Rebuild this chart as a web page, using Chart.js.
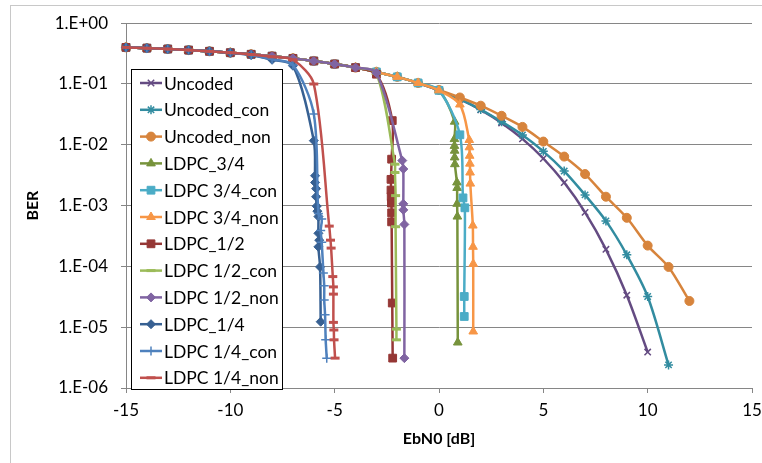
<!DOCTYPE html>
<html>
<head>
<meta charset="utf-8">
<title>BER vs EbN0</title>
<script src="https://cdn.jsdelivr.net/npm/chart.js@4.4.1/dist/chart.umd.min.js"></script>
<style>
  html, body { margin: 0; padding: 0; background: #fff; }
</style>
</head>
<body>
<canvas id="berChart" width="762" height="463"></canvas>
<script>
// shared high-BER part (all curves sit on the uncoded curve here)
var ebn0Base = [-15, -14, -13, -12, -11, -10, -9, -8, -7, -6, -5, -4, -3, -2, -1, 0];
var berBase = [0.400, 0.389, 0.376, 0.361, 0.345, 0.327, 0.308, 0.287, 0.264, 0.239, 0.213, 0.186, 0.158, 0.131, 0.104, 0.0786];

var snrUncoded = ebn0Base.concat([1, 2, 3, 4, 5, 6, 7, 8, 9, 10]);
var berUncoded = berBase.concat([0.0563, 0.0375, 0.0229, 0.0125, 5.95e-3, 2.39e-3, 7.73e-4, 1.91e-4, 3.36e-5, 3.9e-6]);

var snrUncodedCon = ebn0Base.concat([1, 2, 3, 4, 5, 6, 7, 8, 9, 10, 11]);
var berUncodedCon = berBase.concat([0.0565, 0.038, 0.024, 0.0145, 7.8e-3, 3.7e-3, 1.5e-3, 5.6e-4, 1.55e-4, 3.2e-5, 2.4e-6]);

var snrUncodedNon = ebn0Base.slice(0, 15).concat([0, 1, 2, 3, 4, 5, 6, 7, 8, 9, 10, 11, 12]);
var berUncodedNon = berBase.slice(0, 15).concat([0.080, 0.060, 0.044, 0.030, 0.0197, 0.0113, 6.4e-3, 3.3e-3, 1.4e-3, 6.3e-4, 2.2e-4, 9.8e-5, 2.7e-5]);

var snrLdpc34 = ebn0Base.concat([0.75, 0.74, 0.74, 0.75, 0.75, 0.76, 0.86, 0.87, 0.87, 0.88, 0.90]);
var berLdpc34 = berBase.concat([0.024, 0.0124, 0.0096, 0.0080, 0.0062, 0.0048, 0.0024, 0.00195, 0.00107, 6.6e-4, 5.6e-6]);

var snrLdpc34Con = ebn0Base.concat([1.0, 1.15, 1.24, 1.21, 1.21]);
var berLdpc34Con = berBase.concat([0.0146, 0.00134, 9.2e-4, 3.2e-5, 1.5e-5]);

var snrLdpc34Non = ebn0Base.concat([1.0, 1.45, 1.46, 1.47, 1.48, 1.49, 1.50, 1.62, 1.63, 1.64, 1.64]);
var berLdpc34Non = berBase.concat([0.046, 0.012, 0.0091, 0.0066, 0.0049, 0.0035, 0.0023, 4.7e-4, 2.1e-4, 1.1e-4, 8.5e-6]);

var snrLdpc12 = ebn0Base.slice(0, 12).concat([-3, -2.24, -2.27, -2.30, -2.30, -2.29, -2.28, -2.27, -2.27, -2.24, -2.22]);
var berLdpc12 = berBase.slice(0, 12).concat([0.145, 0.025, 0.0058, 0.0027, 0.0018, 0.0014, 0.0011, 7.6e-4, 5.4e-4, 2.5e-5, 3.1e-6]);

var snrLdpc12Con = ebn0Base.slice(0, 12).concat([-3, -2.11, -2.11, -2.08, -2.08, -2.04, -2.04]);
var berLdpc12Con = berBase.slice(0, 12).concat([0.15, 0.0048, 0.0035, 0.00146, 4.5e-4, 9.3e-6, 6.2e-6]);

var snrLdpc12Non = ebn0Base.slice(0, 12).concat([-3, -1.76, -1.71, -1.71, -1.71, -1.66, -1.66]);
var berLdpc12Non = berBase.slice(0, 12).concat([0.152, 0.0055, 0.0040, 0.00107, 8.5e-4, 4.9e-4, 3.1e-6]);

var snrLdpc14 = ebn0Base.slice(0, 6).concat([-9, -8, -7, -6, -5.94, -5.94, -5.89, -5.89, -5.86, -5.83, -5.78, -5.78, -5.74, -5.78, -5.70, -5.67]);
var berLdpc14 = berBase.slice(0, 6).concat([0.30, 0.25, 0.20, 0.0117, 0.0031, 0.0024, 0.0019, 0.0014, 9.8e-4, 8.1e-4, 6.6e-4, 3.5e-4, 2.7e-4, 2.1e-4, 9.8e-5, 1.23e-5]);

var snrLdpc14Con = ebn0Base.slice(0, 6).concat([-9, -8, -7, -6, -5.78, -5.62, -5.67, -5.62, -5.54, -5.50, -5.50, -5.46, -5.43, -5.38]);
var berLdpc14Con = berBase.slice(0, 6).concat([0.30, 0.255, 0.205, 0.032, 7.4e-4, 6.0e-4, 3.9e-4, 2.5e-4, 7.8e-5, 4.8e-5, 2.8e-5, 1.6e-5, 6.2e-6, 3.1e-6]);

var snrLdpc14Non = ebn0Base.slice(0, 6).concat([-9, -8, -7, -6, -5.26, -5.20, -5.17, -5.09, -5.06, -5.06, -5.06, -5.04, -5.03, -4.98]);
var berLdpc14Non = berBase.slice(0, 6).concat([0.305, 0.28, 0.25, 0.1, 4.6e-4, 2.7e-4, 2.0e-4, 6.8e-5, 4.6e-5, 3.5e-5, 1.2e-5, 9e-6, 6.2e-6, 3.1e-6]);

var berTicks = [1, 1e-1, 1e-2, 1e-3, 1e-4, 1e-5, 1e-6];
var berTickLabels = ['1.E+00', '1.E-01', '1.E-02', '1.E-03', '1.E-04', '1.E-05', '1.E-06'];

var fontFamily = 'Lato, "Liberation Sans", sans-serif';

function series(label, xs, ys, color, style, radius, markerWidth) {
    return {
        label: label,
        data: xs.map(function(x, i) { return {x: x, y: ys[i]}; }),
        borderColor: color,
        backgroundColor: color,
        pointBackgroundColor: color,
        pointBorderColor: color,
        pointStyle: style,
        pointRadius: radius,
        pointBorderWidth: markerWidth,
        borderWidth: 2.5,
        tension: 0.3,
        clip: false,
        fill: false
    };
}

var datasets = [
    series('Uncoded', snrUncoded, berUncoded, '#644B82', 'crossRot', 4.5, 1.5),
    series('Uncoded_con', snrUncodedCon, berUncodedCon, '#328CA0', 'star', 4.5, 1.5),
    series('Uncoded_non', snrUncodedNon, berUncodedNon, '#D7843C', 'circle', 4.5, 1),
    series('LDPC_3/4', snrLdpc34, berLdpc34, '#77933C', 'triangle', 5, 1),
    series('LDPC 3/4_con', snrLdpc34Con, berLdpc34Con, '#4BACC6', 'rect', 5.5, 1),
    series('LDPC 3/4_non', snrLdpc34Non, berLdpc34Non, '#F79646', 'triangle', 5, 1),
    series('LDPC_1/2', snrLdpc12, berLdpc12, '#953735', 'rect', 5.5, 1),
    series('LDPC 1/2_con', snrLdpc12Con, berLdpc12Con, '#9BBB59', 'line', 4.5, 3),
    series('LDPC 1/2_non', snrLdpc12Non, berLdpc12Non, '#8064A2', 'rectRot', 4.5, 1),
    series('LDPC_1/4', snrLdpc14, berLdpc14, '#376092', 'rectRot', 4.5, 1),
    series('LDPC 1/4_con', snrLdpc14Con, berLdpc14Con, '#4F81BD', 'cross', 4.5, 1.5),
    series('LDPC 1/4_non', snrLdpc14Non, berLdpc14Non, '#C0504D', 'line', 4.5, 3)
];
// later series are painted on top
datasets.forEach(function(ds, i) { ds.order = datasets.length - 1 - i; });

// white page with the light outer frame
var chartFrame = {
    id: 'chartFrame',
    beforeDraw: function(chart) {
        var ctx = chart.ctx;
        ctx.save();
        ctx.fillStyle = '#ffffff';
        ctx.fillRect(0, 0, chart.width, chart.height);
        ctx.strokeStyle = '#c8c8c8';
        ctx.lineWidth = 1;
        ctx.strokeRect(10.5, 5.5, 800, 500);
        ctx.restore();
    }
};

// boxed legend inside the plot, top left
var legendBox = {
    id: 'legendBox',
    afterDraw: function(chart) {
        var ctx = chart.ctx;
        var area = chart.chartArea;
        var left = Math.round(area.left) + 5.5;
        var top = Math.round(area.top) + 46.5;
        var width = 151;
        var height = 320;
        var rowH = 26.8;
        ctx.save();
        ctx.fillStyle = '#ffffff';
        ctx.fillRect(left, top, width, height);
        ctx.strokeStyle = '#000000';
        ctx.lineWidth = 1;
        ctx.strokeRect(left, top, width, height);
        ctx.font = '17.5px ' + fontFamily;
        ctx.textBaseline = 'middle';
        chart.data.datasets.forEach(function(ds, i) {
            var y = top + 13.5 + i * rowH;
            var x0 = left + 8.5;
            var x1 = left + 30.5;
            ctx.strokeStyle = ds.borderColor;
            ctx.lineWidth = ds.borderWidth;
            ctx.beginPath();
            ctx.moveTo(x0, y);
            ctx.lineTo(x1, y);
            ctx.stroke();
            ctx.fillStyle = ds.pointBackgroundColor;
            ctx.strokeStyle = ds.pointBorderColor;
            ctx.lineWidth = ds.pointBorderWidth;
            Chart.helpers.drawPoint(ctx, {
                pointStyle: ds.pointStyle,
                radius: ds.pointRadius,
                borderWidth: ds.pointBorderWidth,
                rotation: 0
            }, (x0 + x1) / 2, y);
            ctx.fillStyle = '#000000';
            ctx.fillText(ds.label, x1 + 2, y + 1);
        });
        ctx.restore();
    }
};

var ctx = document.getElementById('berChart').getContext('2d');
new Chart(ctx, {
    type: 'line',
    data: { datasets: datasets },
    options: {
        responsive: false,
        animation: false,
        devicePixelRatio: 1,
        layout: { padding: { top: 22, right: 0, left: 0, bottom: 0 } },
        plugins: {
            legend: { display: false },
            tooltip: { enabled: false }
        },
        scales: {
            x: {
                type: 'linear',
                min: -15,
                max: 15,
                ticks: {
                    stepSize: 5,
                    color: '#000',
                    padding: 7,
                    maxRotation: 0,
                    font: { family: fontFamily, size: 17 }
                },
                grid: { drawOnChartArea: false, drawTicks: true, tickLength: 5, color: '#868686' },
                border: { color: '#868686' },
                title: {
                    display: true,
                    text: 'EbN0 [dB]',
                    color: '#000',
                    font: { family: fontFamily, size: 16, weight: 'bold' },
                    padding: { top: 0, bottom: 15 }
                },
                afterFit: function(scale) {
                    scale.height = 75;
                    scale.paddingRight = 10;
                }
            },
            y: {
                type: 'logarithmic',
                min: 1e-6,
                max: 1,
                afterBuildTicks: function(scale) {
                    scale.ticks = berTicks.map(function(v) { return { value: v }; });
                },
                ticks: {
                    color: '#000',
                    padding: 13,
                    font: { family: fontFamily, size: 17 },
                    callback: function(value) {
                        var idx = berTicks.findIndex(function(t) { return Math.abs(Math.log10(t) - Math.log10(value)) < 1e-6; });
                        return idx >= 0 ? berTickLabels[idx] : '';
                    }
                },
                grid: { color: '#868686', tickLength: 5 },
                border: { color: '#868686' },
                title: {
                    display: true,
                    text: 'BER',
                    color: '#000',
                    font: { family: fontFamily, size: 16, weight: 'bold' },
                    padding: { top: 23, bottom: 0 }
                },
                afterFit: function(scale) { scale.width = 126; }
            }
        }
    },
    plugins: [chartFrame, legendBox]
});
</script>
</body>
</html>
